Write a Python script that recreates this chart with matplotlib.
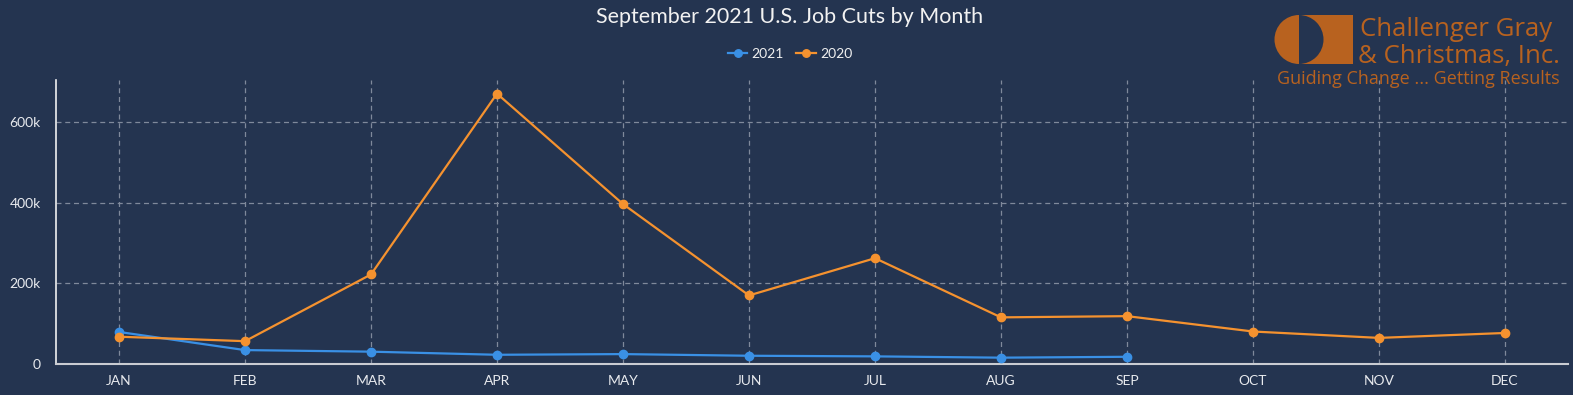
import numpy as np
import matplotlib.pyplot as plt
from matplotlib.patches import Rectangle, Wedge
from matplotlib.ticker import FuncFormatter

months = ["JAN", "FEB", "MAR", "APR", "MAY", "JUN", "JUL", "AUG", "SEP", "OCT", "NOV", "DEC"]
cuts_2021 = [79552, 34531, 30603, 22913, 24586, 20476, 18942, 15723, 17895]
cuts_2020 = [67735, 56660, 222288, 671129, 397016, 170219, 262649, 115762, 118804, 80666, 64797, 77030]

BG = "#243450"
BLUE = "#3a90e5"
ORANGE = "#f5922f"
LOGO = "#b8621f"
W, H = 1573, 395

plt.rcParams["font.family"] = ["Lato", "DejaVu Sans"]

fig = plt.figure(figsize=(W / 100, H / 100), dpi=100)
fig.patch.set_facecolor(BG)

# plot area in pixels: left 56, right 1568, top 80, bottom 364
ax = fig.add_axes([56 / W, (H - 364) / H, (1568 - 56) / W, (364 - 80) / H])
ax.set_facecolor(BG)

x21 = np.arange(len(cuts_2021))
x20 = np.arange(len(cuts_2020))
ax.plot(x21, cuts_2021, color=BLUE, lw=1.6, marker="o", ms=6, label="2021", zorder=3)
ax.plot(x20, cuts_2020, color=ORANGE, lw=1.6, marker="o", ms=6, label="2020", zorder=3)

ax.set_xlim(-0.5, len(months) - 0.5)
ax.set_ylim(0, 705000)
ax.set_xticks(x20)
ax.set_xticklabels(months)
ax.set_yticks([0, 200000, 400000, 600000])
ax.yaxis.set_major_formatter(FuncFormatter(lambda v, p: "0" if v == 0 else f"{int(v / 1000)}k"))

ax.grid(True, color="#7f899b", ls=(0, (4, 3)), lw=0.9)
ax.set_axisbelow(True)
for s in ["top", "right"]:
    ax.spines[s].set_visible(False)
ax.spines["left"].set_color("#f0f0f0")
ax.spines["bottom"].set_color("#c9ccd2")
ax.spines["left"].set_linewidth(1.2)
ax.spines["bottom"].set_linewidth(1.5)
ax.tick_params(length=0, colors="#e8eaee", labelsize=10)
ax.tick_params(axis="x", pad=8)
ax.tick_params(axis="y", pad=11)

fig.text(790 / W, 1 - 17 / H, "September 2021 U.S. Job Cuts by Month", ha="center", va="center",
         color="#f2f2f2", fontsize=15.5)
fig.legend(loc="center", bbox_to_anchor=(790 / W, 1 - 54 / H), ncol=2, frameon=False,
           fontsize=10, labelcolor="#f0f0f0", handlelength=1.4, handletextpad=0.3,
           columnspacing=0.9, markerscale=0.9)

# logo overlay in pixel coordinates
lax = fig.add_axes([0, 0, 1, 1])
lax.set_xlim(0, W)
lax.set_ylim(H, 0)
lax.axis("off")
lax.add_patch(Rectangle((1299, 15), 54, 49, color=LOGO, lw=0))
lax.add_patch(Wedge((1299, 39.5), 24.5, 90, 270, color=LOGO, lw=0))
lax.add_patch(Wedge((1299, 39.5), 24.5, -90, 90, color=BG, lw=0))
lax.text(1360, 36, "Challenger Gray", color=LOGO, fontsize=18.5, family="Open Sans", va="baseline")
lax.text(1358, 63, "& Christmas, Inc.", color=LOGO, fontsize=18.5, family="Open Sans", va="baseline")
lax.text(1277, 84, "Guiding Change ... Getting Results", color=LOGO, fontsize=13, family="Open Sans",
         va="baseline")

fig.savefig("out.png", dpi=100, facecolor=BG)
